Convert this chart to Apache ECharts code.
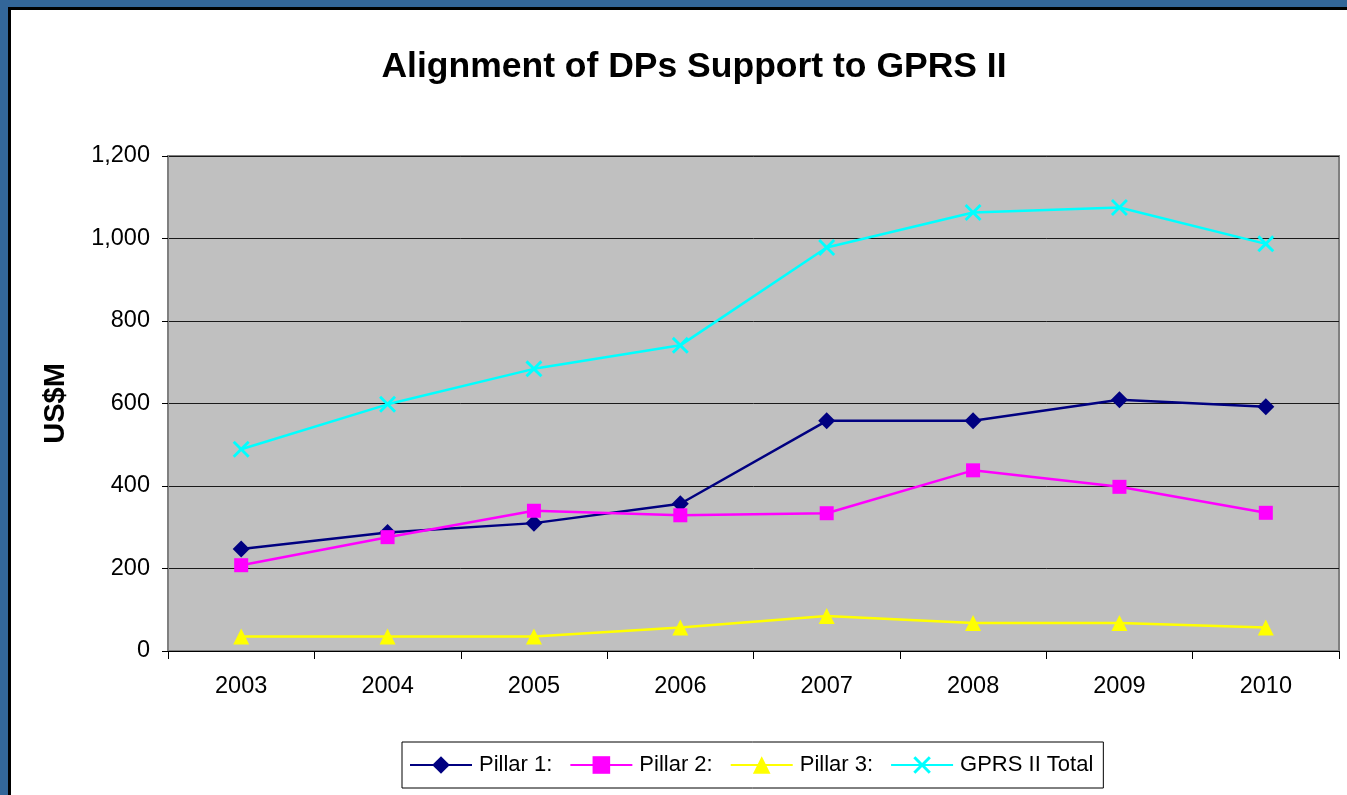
<!DOCTYPE html>
<html>
<head>
<meta charset="utf-8">
<script src="https://cdn.jsdelivr.net/npm/echarts@6/dist/echarts.min.js"></script>
<style>
  html, body { margin: 0; padding: 0; width: 1347px; height: 795px; overflow: hidden; background: #336699; }
  #frame { position: absolute; left: 8px; top: 7px; right: 0; bottom: 0; background: #fff;
           border-left: 3px solid #000; border-top: 3px solid #000; }
  #chart { position: absolute; left: 0; top: 0; width: 1347px; height: 795px; }
</style>
</head>
<body>
<div id="frame"></div>
<div id="chart"></div>
<script>
var years = ['2003', '2004', '2005', '2006', '2007', '2008', '2009', '2010'];
var pillar1 = [247, 287, 310, 357, 558, 558, 609, 592];
var pillar2 = [208, 276, 340, 329, 334, 438, 398, 335];
var pillar3 = [35, 35, 35, 57, 85, 68, 68, 57];
var gprsTotal = [489, 598, 684, 741, 978, 1063, 1075, 987];

var font = '"Liberation Sans", Arial, sans-serif';
var crossPath = 'path://M0,1.2 L1.2,0 L5,3.8 L8.8,0 L10,1.2 L6.2,5 L10,8.8 L8.8,10 L5,6.2 L1.2,10 L0,8.8 L3.8,5 Z';

function makeSeries(name, data, color, symbol, size) {
  return {
    name: name,
    type: 'line',
    data: data,
    symbol: symbol,
    symbolSize: size,
    showAllSymbol: true,
    lineStyle: { color: color, width: 2.5 },
    itemStyle: { color: color, borderWidth: 0 },
    emphasis: { disabled: true },
    z: 3
  };
}

var chart = echarts.init(document.getElementById('chart'));
chart.setOption({
  animation: false,
  textStyle: { fontFamily: font },
  title: {
    text: 'Alignment of DPs Support to GPRS II',
    left: 689,
    textAlign: 'center',
    top: 44,
    textStyle: { fontSize: 35.5, fontWeight: 'bold', color: '#000', fontFamily: font }
  },
  legend: {
    left: 402,
    top: 742,
    itemWidth: 62,
    itemHeight: 22,
    itemGap: 17,
    padding: [12, 10, 12, 7],
    borderColor: '#000',
    borderWidth: 1,
    textStyle: { fontSize: 22, color: '#000', fontFamily: font, padding: [0, 0, 0, 2] },
    data: ['Pillar 1:', 'Pillar 2:', 'Pillar 3:', 'GPRS II Total']
  },
  grid: { left: 168, top: 156, right: 8, bottom: 144, show: true, backgroundColor: '#C0C0C0', borderColor: '#808080', borderWidth: 2 },
  xAxis: {
    type: 'category',
    data: years,
    boundaryGap: true,
    axisLine: { lineStyle: { color: '#000', width: 1 } },
    axisTick: { show: true, length: 8, inside: false, lineStyle: { color: '#000' } },
    axisLabel: { fontSize: 23.5, color: '#000', margin: 24, fontFamily: font }
  },
  yAxis: {
    type: 'value',
    min: 0,
    max: 1200,
    interval: 200,
    name: 'US$M',
    nameLocation: 'middle',
    nameGap: 98,
    nameTextStyle: { fontSize: 29, fontWeight: 'bold', color: '#000', fontFamily: font },
    axisLine: { show: true, lineStyle: { color: '#808080', width: 2 } },
    axisTick: { show: true, length: 6, lineStyle: { color: '#000' } },
    axisLabel: {
      fontSize: 23.5, color: '#000', margin: 18, fontFamily: font,
      formatter: function (v) { return v.toLocaleString('en-US'); }
    },
    splitLine: { show: true, lineStyle: { color: '#1a1a1a', width: 1 } }
  },
  series: [
    makeSeries('Pillar 1:', pillar1, '#000080', 'diamond', 17),
    makeSeries('Pillar 2:', pillar2, '#FF00FF', 'rect', 14),
    makeSeries('Pillar 3:', pillar3, '#FFFF00', 'triangle', 16),
    makeSeries('GPRS II Total', gprsTotal, '#00FFFF', crossPath, 17)
  ]
});
</script>
</body>
</html>
